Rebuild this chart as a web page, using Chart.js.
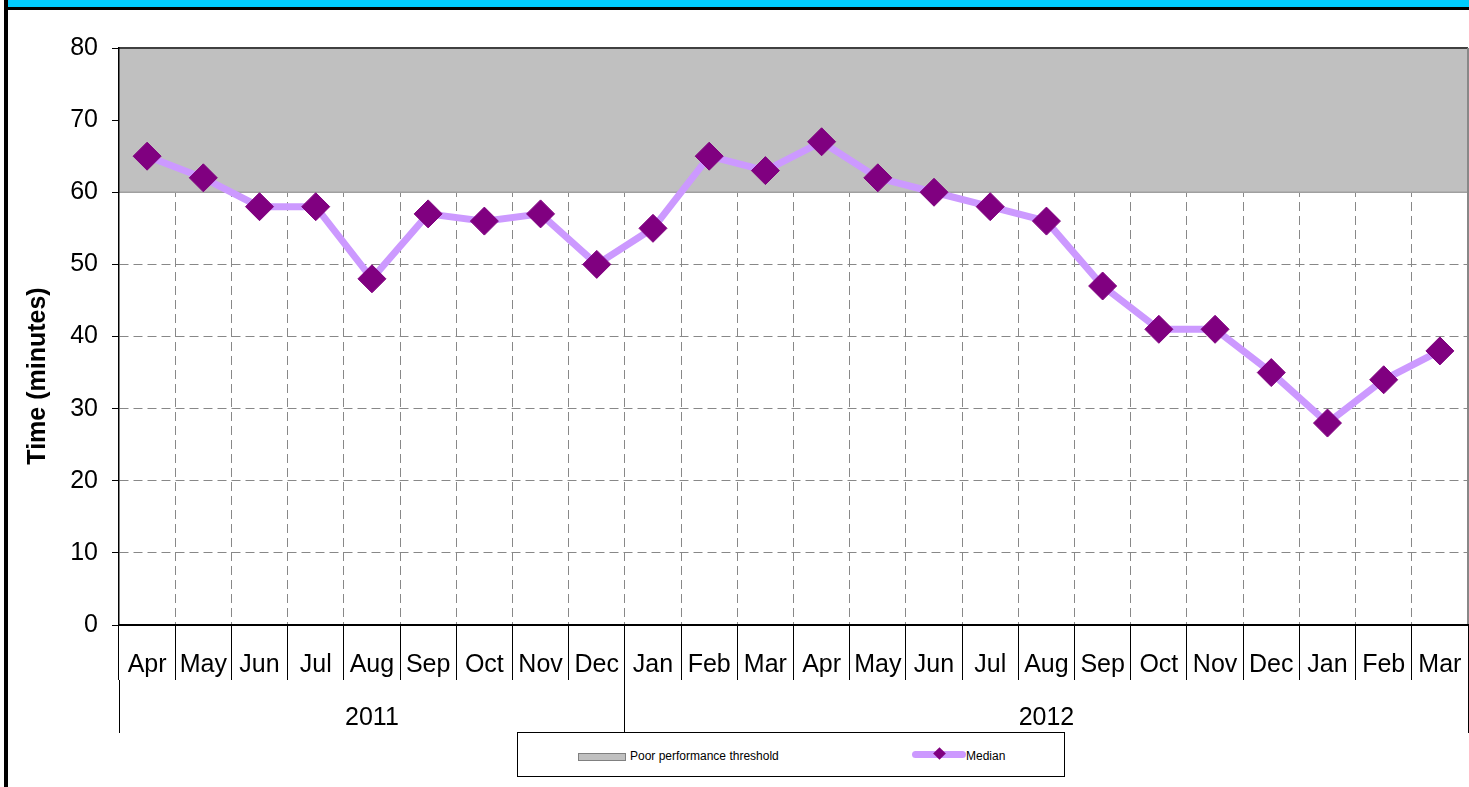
<!DOCTYPE html>
<html><head><meta charset="utf-8">
<script src="https://cdn.jsdelivr.net/npm/chart.js@4.4.0/dist/chart.umd.min.js"></script>
<style>
html,body{margin:0;padding:0;background:#fff;width:1469px;height:787px;overflow:hidden;}
#cyan{position:absolute;left:8px;top:0;width:1461px;height:7px;background:#00CCFF;}
#topline{position:absolute;left:8px;top:7px;width:1461px;height:3px;background:#000;}
#leftline{position:absolute;left:4px;top:0;width:4px;height:787px;background:#000;}
#c{position:absolute;left:0;top:0;}
#legend{position:absolute;left:517px;top:732px;width:546px;height:43px;border:1px solid #000;background:#fff;font:12px "Liberation Sans",Arial,sans-serif;color:#000;z-index:2;}
#legend .sw1{position:absolute;left:60px;top:20px;width:46px;height:6px;background:#C0C0C0;border:1px solid #808080;}
#legend .t1{position:absolute;left:112px;top:16px;line-height:14px;white-space:nowrap;}
#legend .sw2{position:absolute;left:394px;top:18px;width:54px;height:7px;background:#CC99FF;border-radius:3.5px;}
#legend .dm{position:absolute;left:417px;top:16px;width:9px;height:9px;background:#800080;transform:rotate(45deg);}
#legend .t2{position:absolute;left:448px;top:16px;line-height:14px;white-space:nowrap;}
</style>
</head>
<body>
<div id="leftline"></div><div id="cyan"></div><div id="topline"></div>
<canvas id="c" width="1469" height="787"></canvas>
<div id="legend"><div class="sw1"></div><div class="t1" id="lt1"></div><div class="sw2"></div><div class="dm"></div><div class="t2" id="lt2"></div></div>
<script>
// ---- data ----
const months = ['Apr','May','Jun','Jul','Aug','Sep','Oct','Nov','Dec','Jan','Feb','Mar','Apr','May','Jun','Jul','Aug','Sep','Oct','Nov','Dec','Jan','Feb','Mar'];
const years = ['2011','2012'];
const monthsPerYear = [9, 15];
const median = [65,62,58,58,48,57,56,57,50,55,65,63,67,62,60,58,56,47,41,41,35,28,34,38];
const threshold = [60,60,60,60,60,60,60,60,60,60,60,60,60,60,60,60,60,60,60,60,60,60,60,60];
const yTicks = [0,10,20,30,40,50,60,70,80];
const yTitle = 'Time (minutes)';
const seriesNames = ['Poor performance threshold','Median'];

// year group boundaries and centres
const yearBounds = [0];
monthsPerYear.forEach(n => yearBounds.push(yearBounds[yearBounds.length-1] + n));
const yearCenters = years.map((_, i) => (yearBounds[i] + yearBounds[i+1]) / 2);

const FONT = '"Liberation Sans", Arial, sans-serif';
Chart.defaults.font.family = FONT;
Chart.defaults.color = '#000';

const noPad = s => { s.paddingLeft = 0; s.paddingRight = 0; s.paddingTop = 0; s.paddingBottom = 0; };

const plotFrame = {
  id: 'plotFrame',
  afterDatasetsDraw(chart) {
    const {ctx, chartArea: a} = chart;
    ctx.save();
    ctx.lineWidth = 2;
    ctx.strokeStyle = '#404040';
    ctx.beginPath(); ctx.moveTo(a.left, a.top); ctx.lineTo(a.right, a.top); ctx.stroke();
    ctx.strokeStyle = '#888888';
    ctx.beginPath(); ctx.moveTo(a.right, a.top); ctx.lineTo(a.right, a.bottom); ctx.stroke();
    ctx.restore();
  },
  afterDraw(chart) {
    const {ctx} = chart;
    ctx.save();
    ctx.translate(45, 376);
    ctx.rotate(-Math.PI / 2);
    ctx.font = 'bold 25px ' + FONT;
    ctx.fillStyle = '#000';
    ctx.textAlign = 'center';
    ctx.textBaseline = 'alphabetic';
    ctx.fillText(yTitle, 0, 0);
    ctx.restore();
  }
};

new Chart(document.getElementById('c'), {
  type: 'line',
  data: {
    labels: months,
    datasets: [
      {
        label: seriesNames[1],
        data: median,
        xAxisID: 'x', yAxisID: 'y',
        borderColor: '#CC99FF',
        borderWidth: 7,
        tension: 0,
        fill: false,
        pointStyle: 'rectRot',
        pointRadius: 14,
        pointHoverRadius: 14,
        pointBackgroundColor: '#800080',
        pointBorderColor: '#800080',
        pointBorderWidth: 1,
        order: 1
      },
      {
        label: seriesNames[0],
        data: threshold,
        xAxisID: 'xArea', yAxisID: 'y',
        borderColor: '#A0A0A0',
        borderWidth: 1.5,
        backgroundColor: '#C0C0C0',
        fill: 'end',
        pointRadius: 0,
        tension: 0,
        order: 2
      }
    ]
  },
  options: {
    responsive: false,
    animation: false,
    events: [],
    layout: { autoPadding: false, padding: { top: 48, left: 0, right: 1, bottom: 54 } },
    plugins: { legend: { display: false }, tooltip: { enabled: false } },
    scales: {
      y: {
        min: 0, max: 80,
        afterBuildTicks: s => { s.ticks = yTicks.map(v => ({ value: v })); },
        afterFit: s => { s.width = 119; noPad(s); },
        ticks: { font: { size: 25 }, padding: 14, color: '#000' },
        grid: { color: '#888', lineWidth: 1, tickColor: '#000', tickLength: 7 },
        border: { color: '#000', width: 1.5, dash: [9, 5], z: 1 }
      },
      x: {
        type: 'category',
        position: 'bottom',
        weight: 1,
        offset: true,
        afterFit: s => { s.height = 55; noPad(s); },
        ticks: { font: { size: 25 }, padding: -30, autoSkip: false, maxRotation: 0, color: '#000' },
        grid: { offset: true, color: c => c.index === 0 ? 'rgba(0,0,0,0)' : '#888', lineWidth: 1, tickColor: '#000', tickLength: 55, tickWidth: 1 },
        border: { color: '#000', width: 2, dash: [9, 5], z: 1 }
      },
      xYear: {
        type: 'linear',
        position: 'bottom',
        weight: 2,
        min: 0, max: yearBounds[yearBounds.length - 1],
        afterBuildTicks: s => {
          const vals = yearBounds.concat(yearCenters).sort((a, b) => a - b);
          s.ticks = vals.map(v => ({ value: v }));
        },
        afterFit: s => { s.height = 53; noPad(s); },
        ticks: {
          font: { size: 25 }, padding: -30, autoSkip: false, maxRotation: 0, color: '#000',
          callback: v => { const i = yearCenters.indexOf(v); return i >= 0 ? years[i] : ''; }
        },
        grid: {
          drawOnChartArea: false,
          tickLength: 53, tickWidth: 1,
          tickColor: c => (c.tick && yearBounds.includes(c.tick.value)) ? '#000' : 'rgba(0,0,0,0)'
        },
        border: { display: false }
      },
      xArea: {
        type: 'category',
        labels: months,
        offset: false,
        display: false
      }
    }
  },
  plugins: [plotFrame]
});

document.getElementById('lt1').textContent = seriesNames[0];
document.getElementById('lt2').textContent = seriesNames[1];
</script>
</body></html>
